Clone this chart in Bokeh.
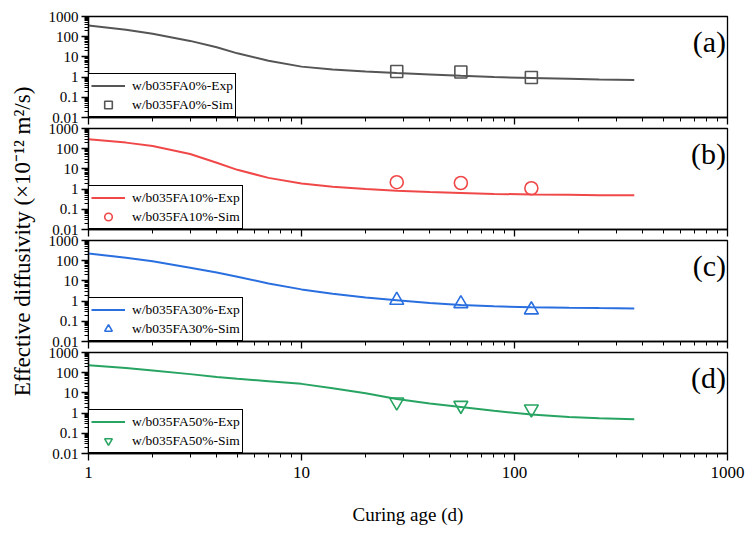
import math
from bokeh.plotting import figure
from bokeh.layouts import column, row
from bokeh.models import (Range1d, FixedTicker, Label, Legend, LegendItem,
                          CustomJSTickFormatter)
from bokeh.embed import file_html
from bokeh.resources import INLINE

# ---------------- data ----------------
age_curve = [1, 1.5, 2, 3, 4, 5, 7, 10, 14, 20, 28, 40, 56, 80, 120, 180, 250, 365]
age_sim = [28, 56, 120]

exp_a = [360, 220, 140, 62, 30, 15, 6.5, 3.3, 2.4, 1.9, 1.6, 1.35, 1.15, 1.0, 0.9, 0.82, 0.76, 0.72]
sim_a = [1.9, 1.8, 0.95]

exp_b = [295, 200, 135, 55, 20, 9, 3.6, 1.9, 1.3, 1.0, 0.82, 0.72, 0.65, 0.58, 0.54, 0.52, 0.5, 0.5]
sim_b = [2.2, 2.0, 1.1]

exp_c = [230, 140, 95, 45, 26, 16, 7.5, 3.8, 2.3, 1.5, 1.1, 0.8, 0.65, 0.55, 0.5, 0.47, 0.45, 0.43]
sim_c = [1.1, 0.75, 0.37]

exp_d = [237, 170, 130, 85, 62, 50, 38, 28, 17, 9.6, 5.0, 3.0, 2.0, 1.3, 0.85, 0.65, 0.55, 0.5]
sim_d = [3.5, 2.4, 1.6]

labels_exp = ["w/b035FA0%-Exp", "w/b035FA10%-Exp", "w/b035FA30%-Exp", "w/b035FA50%-Exp"]
labels_sim = ["w/b035FA0%-Sim", "w/b035FA10%-Sim", "w/b035FA30%-Sim", "w/b035FA50%-Sim"]
panel_tags = ["(a)", "(b)", "(c)", "(d)"]

x_ticks = [1, 10, 100, 1000]
x_tick_labels = ["1", "10", "100", "1000"]
y_ticks = [0.01, 0.1, 1, 10, 100, 1000]
y_tick_labels = ["0.01", "0.1", "1", "10", "100", "1000"]

x_title = "Curing age (d)"
y_title = "Effective diffusivity (\u00d710\u207b\u00b9\u00b2 m\u00b2/s)"

# ---------------- style ----------------
FONT = "Liberation Serif"
colors = ["#555555", "#f04848", "#2a6fdf", "#27a462"]
markers = ["square", "circle", "triangle", "inverted_triangle"]
msizes = [12, 13, 14, 14]

exps = [exp_a, exp_b, exp_c, exp_d]
sims = [sim_a, sim_b, sim_c, sim_d]

def minor(lo, hi):
    out = []
    for e in range(lo, hi):
        for m in range(2, 10):
            out.append(m * 10.0 ** e)
    return out

x_minor = minor(0, 3)
y_minor = minor(-2, 3)

panels = []
# frames: (a) 16-117, (b) 128-229, (c) 240-341, (d) 352-453
heights = [128, 123, 123, 199]
tops = [16, 11, 11, 11]
bottoms = [11, 11, 11, 87]
margins = [(0, 0, 0, 0), (-11, 0, 0, 0), (-11, 0, 0, 0), (-11, 0, 0, 0)]

for i in range(4):
    p = figure(width=708, height=heights[i], x_axis_type="log", y_axis_type="log",
               x_range=Range1d(1, 1000), y_range=Range1d(0.01, 1000),
               output_backend="svg", toolbar_location=None,
               min_border_left=48, min_border_right=21,
               min_border_top=tops[i], min_border_bottom=bottoms[i],
               margin=margins[i])
    p.grid.visible = False
    p.outline_line_color = "black"
    p.outline_line_width = 1.3
    p.background_fill_color = "white"
    p.border_fill_alpha = 0.0

    p.xaxis.ticker = FixedTicker(ticks=x_ticks, minor_ticks=x_minor)
    p.yaxis.ticker = FixedTicker(ticks=y_ticks, minor_ticks=y_minor)
    p.yaxis.major_label_overrides = {t: s for t, s in zip(y_ticks, y_tick_labels)}
    for ax in (p.xaxis[0], p.yaxis[0]):
        ax.axis_line_width = 1.3
        ax.axis_line_color = "black"
        ax.major_tick_line_color = "black"
        ax.minor_tick_line_color = "black"
        ax.major_tick_line_width = 1.3
        ax.minor_tick_line_width = 1.0
        ax.major_tick_in = 0
        ax.minor_tick_in = 0
        ax.major_tick_out = 7
        ax.minor_tick_out = 4
        ax.major_label_text_font = FONT
        ax.major_label_text_color = "black"
    p.yaxis.major_label_text_font_size = "15px"
    p.yaxis.major_label_standoff = 3
    if i < 3:
        p.xaxis.formatter = CustomJSTickFormatter(code="return ''")
        p.xaxis.major_label_standoff = 0
        p.xaxis.major_label_text_font_size = "1px"
    else:
        p.xaxis.major_label_overrides = {t: s for t, s in zip(x_ticks, x_tick_labels)}
        p.xaxis.major_label_text_font_size = "17px"
        p.xaxis.major_label_standoff = 6
        p.xaxis.axis_label = x_title
        p.xaxis.axis_label_text_font = FONT
        p.xaxis.axis_label_text_font_size = "19px"
        p.xaxis.axis_label_text_font_style = "normal"
        p.xaxis.axis_label_text_color = "black"
        p.xaxis.axis_label_standoff = 23

    ln = p.line(age_curve, exps[i], line_color=colors[i], line_width=2)
    sc = p.scatter(age_sim, sims[i], marker=markers[i], size=msizes[i],
                   line_color=colors[i], line_width=1.6, fill_color=None)

    leg = Legend(items=[LegendItem(label=labels_exp[i], renderers=[ln]),
                        LegendItem(label=labels_sim[i], renderers=[sc])],
                 location="bottom_left")
    leg.margin = 0
    leg.padding = 2
    leg.spacing = 0
    leg.label_height = 19
    leg.glyph_height = 19
    leg.glyph_width = 34
    leg.label_standoff = 7
    leg.label_text_font = FONT
    leg.label_text_font_size = "13.5px"
    leg.label_text_color = "black"
    leg.border_line_color = "black"
    leg.border_line_width = 1.3
    leg.border_line_alpha = 1.0
    leg.background_fill_alpha = 1.0
    p.add_layout(leg)

    p.add_layout(Label(x=985, y=360, text=panel_tags[i], text_font=FONT,
                       text_font_size="30px", text_align="right",
                       text_baseline="top", text_color="black"))
    panels.append(p)

lab = figure(width=40, height=540, x_range=Range1d(0, 40), y_range=Range1d(0, 540),
             output_backend="svg", toolbar_location=None,
             min_border=0, min_border_left=0, min_border_right=0,
             min_border_top=0, min_border_bottom=0)
lab.axis.visible = False
lab.grid.visible = False
lab.outline_line_color = None
lab.add_layout(Label(x=22, y=299, text=y_title, angle=math.pi / 2,
                     text_font=FONT, text_font_size="23px",
                     text_align="center", text_baseline="middle",
                     text_color="black"))

layout = row(lab, column(*panels, spacing=0), spacing=0)

open("out.html", "w").write(file_html(layout, INLINE))
